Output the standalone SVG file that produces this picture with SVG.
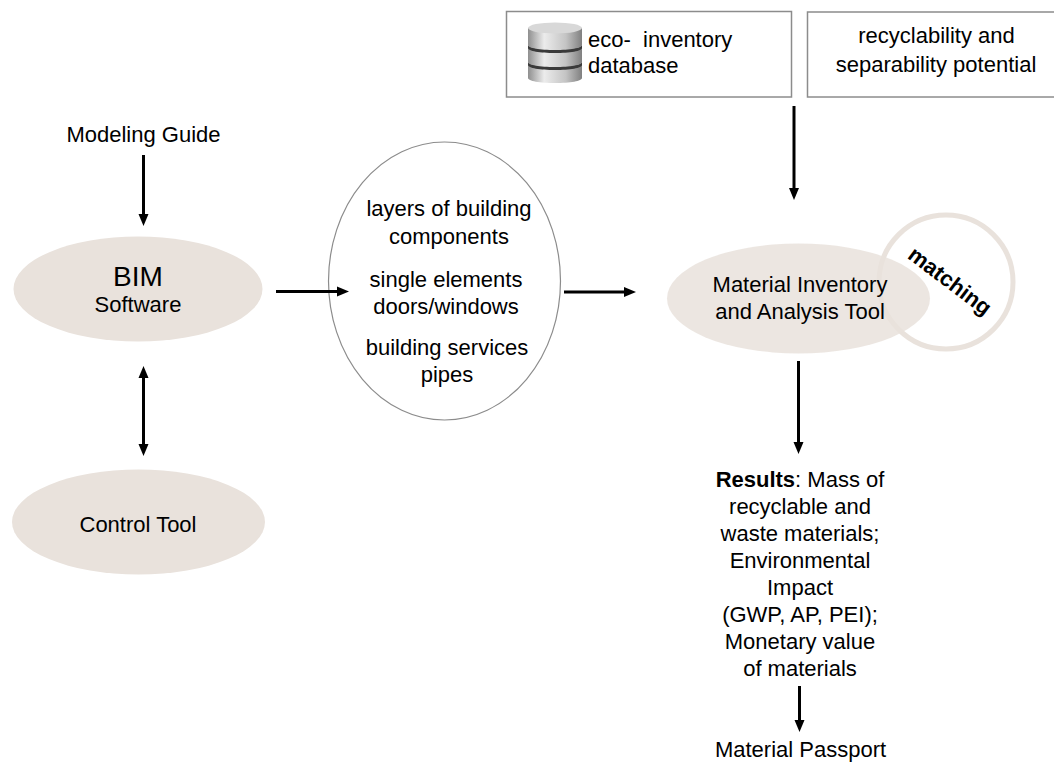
<svg xmlns="http://www.w3.org/2000/svg" width="1054" height="763" viewBox="0 0 1054 763">
<style>
text{font-family:"Liberation Sans",Arial,sans-serif;fill:#000;text-anchor:middle;font-size:22px}
.l{text-anchor:start}
.e{fill:#e9e2dc}
.c{stroke:#000;stroke-width:3;fill:none}
.b{fill:#fff;stroke:#8c8c8c;stroke-width:1.5}
</style>
<defs>
<marker id="a" markerUnits="userSpaceOnUse" markerWidth="13" markerHeight="11" refX="4" refY="5.500" orient="auto"><path d="M0 0.500L12 5.500L0 10.500Z" fill="#000"/></marker>
<marker id="as" markerUnits="userSpaceOnUse" markerWidth="13" markerHeight="11" refX="8" refY="5.500" orient="auto"><path d="M12 0.500L0 5.500L12 10.500Z" fill="#000"/></marker>
<linearGradient id="g" x1="0" x2="1" y1="0" y2="0"><stop offset="0" stop-color="#8f8f8f"/><stop offset=".3" stop-color="#ececec"/><stop offset=".7" stop-color="#c4c4c4"/><stop offset="1" stop-color="#808080"/></linearGradient>
</defs>
<g id="modeling-guide"><text x="143.500" y="142">Modeling Guide</text></g>
<g id="bim"><ellipse class="e" cx="138" cy="289" rx="124.500" ry="52.500"/><text x="138" y="286" style="font-size:28px">BIM</text><text x="138" y="312">Software</text></g>
<g id="control-tool"><ellipse class="e" cx="138.500" cy="522" rx="126.500" ry="52.500"/><text x="138" y="532">Control Tool</text></g>
<g id="layers"><ellipse cx="444.500" cy="281" rx="116" ry="139" fill="#fff" stroke="#8c8c8c" stroke-width="1.200"/>
<text x="449" y="216">layers of building</text><text x="449" y="244">components</text>
<text x="446" y="287">single elements</text><text x="446" y="314">doors/windows</text>
<text x="447" y="355">building services</text><text x="447" y="382">pipes</text></g>
<g id="eco-inventory"><rect class="b" x="506.500" y="11.500" width="285" height="85.500"/>
<path d="M528 28v17c0 3 12 5 27 5s27-2 27-5V28Z" fill="url(#g)"/><path d="M528 48v14c0 3 12 5 27 5s27-2 27-5V48Z" fill="url(#g)"/><path d="M528 65v13c0 3 12 5 27 5s27-2 27-5V65Z" fill="url(#g)"/><path d="M528 45c0 3 12 5 27 5s27-2 27-5v3c0 3-12 5-27 5s-27-2-27-5Z" fill="#3a3a3a"/><path d="M528 62c0 3 12 5 27 5s27-2 27-5v3c0 3-12 5-27 5s-27-2-27-5Z" fill="#3a3a3a"/><ellipse cx="555" cy="28" rx="27" ry="5.500" fill="#d8d8d8"/>
<text class="l" x="588" y="47" xml:space="preserve">eco-  inventory</text><text class="l" x="588" y="73">database</text></g>
<g id="recyclability"><rect class="b" x="807.500" y="12" width="250" height="85"/>
<text x="936.500" y="43">recyclability and</text><text x="936" y="72">separability potential</text></g>
<g id="matching"><circle cx="946" cy="282" r="67" fill="none" stroke="#e9e2dc" stroke-width="5"/><text transform="translate(945.500 287) rotate(37)" style="font-weight:700">matching</text></g>
<g id="material-tool"><ellipse class="e" cx="798.500" cy="298.500" rx="131.500" ry="55" fill-opacity=".85"/><text x="800" y="292">Material Inventory</text><text x="800" y="319">and Analysis Tool</text></g>
<g id="results">
<text x="800" y="487"><tspan style="font-weight:700">Results</tspan>: Mass of</text>
<text x="800" y="514">recyclable and</text><text x="800" y="541">waste materials;</text><text x="800" y="568">Environmental</text><text x="800" y="595">Impact</text><text x="800" y="622">(GWP, AP, PEI);</text><text x="800" y="649">Monetary value</text><text x="800" y="676">of materials</text></g>
<g id="passport"><text x="800.500" y="757">Material Passport</text></g>
<g id="connectors">
<path class="c" d="M143.500 155V218" marker-end="url(#a)"/>
<path class="c" d="M143.500 374V448" marker-start="url(#as)" marker-end="url(#a)"/>
<path class="c" d="M276 291.500H341" marker-end="url(#a)"/>
<path class="c" d="M564 292H628" marker-end="url(#a)"/>
<path class="c" d="M794 106V192" marker-end="url(#a)"/>
<path class="c" d="M798.500 361V446" marker-end="url(#a)"/>
<path class="c" d="M799.500 686V724" marker-end="url(#a)"/>
</g>
</svg>
